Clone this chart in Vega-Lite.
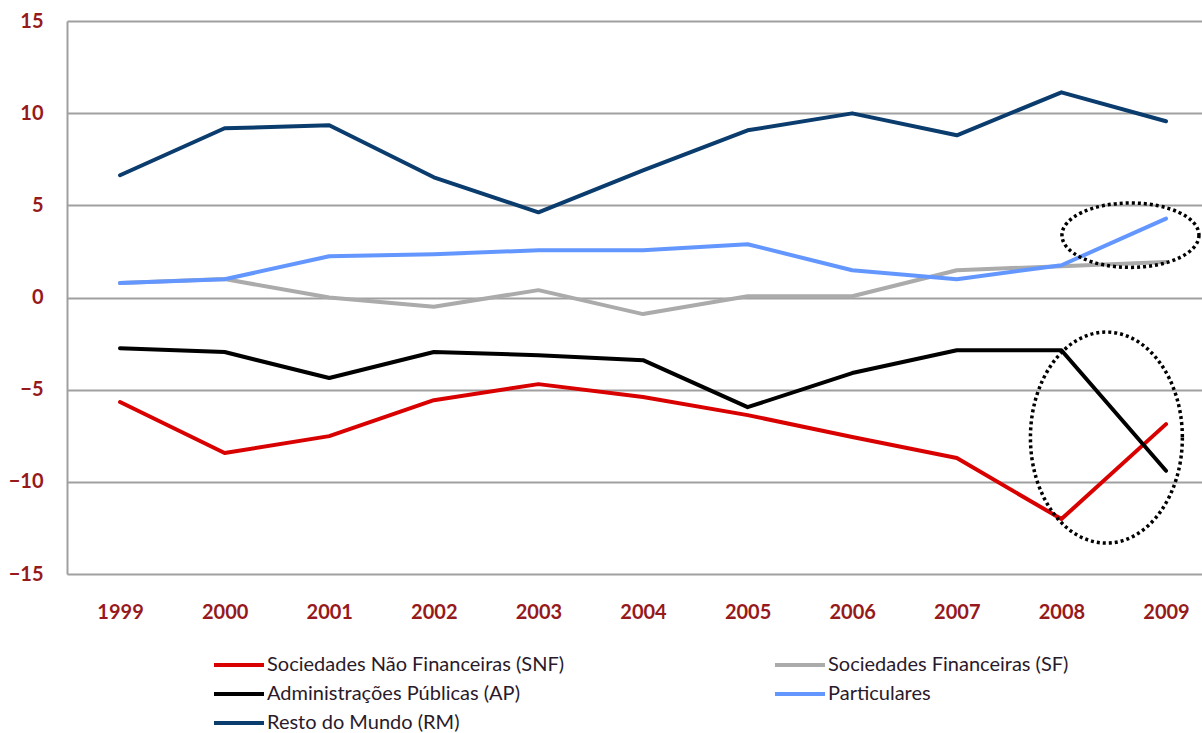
{
  "$schema": "https://vega.github.io/schema/vega-lite/v6.json",
  "autosize": "none",
  "width": 1135,
  "height": 553,
  "padding": {"left": 67, "top": 21, "right": 0, "bottom": 159},
  "background": "white",
  "config": {
    "view": {"stroke": null},
    "font": "Lato"
  },
  "datasets": {
    "series": [
      {"year": 1999, "serie": "Sociedades Não Financeiras (SNF)", "v": -5.67},
      {"year": 2000, "serie": "Sociedades Não Financeiras (SNF)", "v": -8.44},
      {"year": 2001, "serie": "Sociedades Não Financeiras (SNF)", "v": -7.52},
      {"year": 2002, "serie": "Sociedades Não Financeiras (SNF)", "v": -5.57},
      {"year": 2003, "serie": "Sociedades Não Financeiras (SNF)", "v": -4.7},
      {"year": 2004, "serie": "Sociedades Não Financeiras (SNF)", "v": -5.4},
      {"year": 2005, "serie": "Sociedades Não Financeiras (SNF)", "v": -6.38},
      {"year": 2006, "serie": "Sociedades Não Financeiras (SNF)", "v": -7.57},
      {"year": 2007, "serie": "Sociedades Não Financeiras (SNF)", "v": -8.71},
      {"year": 2008, "serie": "Sociedades Não Financeiras (SNF)", "v": -12.02},
      {"year": 2009, "serie": "Sociedades Não Financeiras (SNF)", "v": -6.87},
      {"year": 1999, "serie": "Sociedades Financeiras (SF)", "v": 0.78},
      {"year": 2000, "serie": "Sociedades Financeiras (SF)", "v": 1.0},
      {"year": 2001, "serie": "Sociedades Financeiras (SF)", "v": 0.0},
      {"year": 2002, "serie": "Sociedades Financeiras (SF)", "v": -0.5},
      {"year": 2003, "serie": "Sociedades Financeiras (SF)", "v": 0.4},
      {"year": 2004, "serie": "Sociedades Financeiras (SF)", "v": -0.9},
      {"year": 2005, "serie": "Sociedades Financeiras (SF)", "v": 0.07},
      {"year": 2006, "serie": "Sociedades Financeiras (SF)", "v": 0.07},
      {"year": 2007, "serie": "Sociedades Financeiras (SF)", "v": 1.48},
      {"year": 2008, "serie": "Sociedades Financeiras (SF)", "v": 1.7},
      {"year": 2009, "serie": "Sociedades Financeiras (SF)", "v": 1.93},
      {"year": 1999, "serie": "Administrações Públicas (AP)", "v": -2.75},
      {"year": 2000, "serie": "Administrações Públicas (AP)", "v": -2.96},
      {"year": 2001, "serie": "Administrações Públicas (AP)", "v": -4.37},
      {"year": 2002, "serie": "Administrações Públicas (AP)", "v": -2.96},
      {"year": 2003, "serie": "Administrações Públicas (AP)", "v": -3.13},
      {"year": 2004, "serie": "Administrações Públicas (AP)", "v": -3.4},
      {"year": 2005, "serie": "Administrações Públicas (AP)", "v": -5.95},
      {"year": 2006, "serie": "Administrações Públicas (AP)", "v": -4.1},
      {"year": 2007, "serie": "Administrações Públicas (AP)", "v": -2.86},
      {"year": 2008, "serie": "Administrações Públicas (AP)", "v": -2.86},
      {"year": 2009, "serie": "Administrações Públicas (AP)", "v": -9.4},
      {"year": 1999, "serie": "Particulares", "v": 0.78},
      {"year": 2000, "serie": "Particulares", "v": 0.99},
      {"year": 2001, "serie": "Particulares", "v": 2.24},
      {"year": 2002, "serie": "Particulares", "v": 2.35},
      {"year": 2003, "serie": "Particulares", "v": 2.56},
      {"year": 2004, "serie": "Particulares", "v": 2.56},
      {"year": 2005, "serie": "Particulares", "v": 2.89},
      {"year": 2006, "serie": "Particulares", "v": 1.48},
      {"year": 2007, "serie": "Particulares", "v": 0.99},
      {"year": 2008, "serie": "Particulares", "v": 1.75},
      {"year": 2009, "serie": "Particulares", "v": 4.28},
      {"year": 1999, "serie": "Resto do Mundo (RM)", "v": 6.63},
      {"year": 2000, "serie": "Resto do Mundo (RM)", "v": 9.18},
      {"year": 2001, "serie": "Resto do Mundo (RM)", "v": 9.34},
      {"year": 2002, "serie": "Resto do Mundo (RM)", "v": 6.52},
      {"year": 2003, "serie": "Resto do Mundo (RM)", "v": 4.62},
      {"year": 2004, "serie": "Resto do Mundo (RM)", "v": 6.9},
      {"year": 2005, "serie": "Resto do Mundo (RM)", "v": 9.07},
      {"year": 2006, "serie": "Resto do Mundo (RM)", "v": 9.99},
      {"year": 2007, "serie": "Resto do Mundo (RM)", "v": 8.8},
      {"year": 2008, "serie": "Resto do Mundo (RM)", "v": 11.13},
      {"year": 2009, "serie": "Resto do Mundo (RM)", "v": 9.56}
    ],
    "ellipseTop": [{"year": 2008.66, "v": 3.38}],
    "ellipseBottom": [{"year": 2008.43, "v": -7.6}]
  },
  "layer": [
    {
      "data": {"name": "series"},
      "mark": {"type": "line", "strokeWidth": 4, "strokeCap": "round", "strokeJoin": "round", "clip": false},
      "encoding": {
        "x": {
          "field": "year", "type": "quantitative",
          "scale": {"domain": [1998.493, 2009.344], "nice": false, "zero": false},
          "axis": {
            "title": null, "values": [1999, 2000, 2001, 2002, 2003, 2004, 2005, 2006, 2007, 2008, 2009],
            "format": "d", "grid": false, "domain": false, "ticks": false,
            "labelPadding": 28, "labelFont": "Lato", "labelFontWeight": "bold", "labelFontSize": 20,
            "labelColor": "#96191C", "labelFlush": false
          }
        },
        "y": {
          "field": "v", "type": "quantitative",
          "scale": {"domain": [-15, 15], "nice": false, "zero": false},
          "axis": {
            "title": null, "values": [-15, -10, -5, 0, 5, 10, 15],
            "grid": true, "gridColor": "#A0A0A0", "gridWidth": 2, "gridOpacity": 1,
            "domain": true, "domainColor": "#A0A0A0", "domainWidth": 2,
            "ticks": false, "labelPadding": 24, "labelFont": "Lato", "labelFontWeight": "bold",
            "labelFontSize": 20, "labelColor": "#96191C"
          }
        },
        "color": {
          "field": "serie", "type": "nominal",
          "scale": {
            "domain": ["Sociedades Não Financeiras (SNF)", "Sociedades Financeiras (SF)", "Administrações Públicas (AP)", "Particulares", "Resto do Mundo (RM)"],
            "range": ["#D90000", "#ABABAB", "#000000", "#6397FF", "#0B3C6E"]
          },
          "legend": {
            "title": null, "orient": "none", "legendX": 160, "legendY": 632, "columns": 2,
            "direction": "horizontal",
            "symbolType": "M-2.5,0H2.5", "symbolSize": 400, "symbolStrokeWidth": 4,
            "labelFont": "Lato", "labelFontSize": 20, "labelColor": "#2A1A2A", "labelOffset": 16,
            "rowPadding": 7, "columnPadding": 202, "labelLimit": 500
          }
        },
        "order": {"field": "year"}
      }
    },
    {
      "data": {"name": "ellipseTop"},
      "mark": {
        "type": "point", "filled": false, "stroke": "#000000", "strokeWidth": 3.5, "strokeDash": [3, 3], "opacity": 1, "clip": false,
        "size": 18769,
        "shape": "M1,0C1,0.26 0.552,0.47 0,0.47C-0.552,0.47 -1,0.26 -1,0C-1,-0.26 -0.552,-0.47 0,-0.47C0.552,-0.47 1,-0.26 1,0Z"
      },
      "encoding": {
        "x": {"field": "year", "type": "quantitative"},
        "y": {"field": "v", "type": "quantitative"}
      }
    },
    {
      "data": {"name": "ellipseBottom"},
      "mark": {
        "type": "point", "filled": false, "stroke": "#000000", "strokeWidth": 3.5, "strokeDash": [3, 3], "opacity": 1, "clip": false,
        "size": 44521,
        "shape": "M0.72,0C0.72,0.552 0.398,1 0,1C-0.398,1 -0.72,0.552 -0.72,0C-0.72,-0.552 -0.398,-1 0,-1C0.398,-1 0.72,-0.552 0.72,0Z"
      },
      "encoding": {
        "x": {"field": "year", "type": "quantitative"},
        "y": {"field": "v", "type": "quantitative"}
      }
    }
  ]
}
